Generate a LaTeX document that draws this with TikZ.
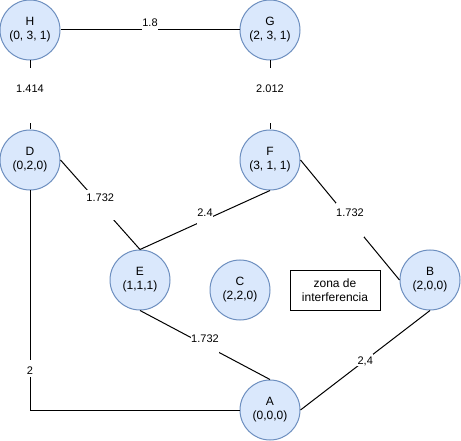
\documentclass[tikz,border=0pt]{standalone}
\usepackage{fontspec}
\setmainfont{Liberation Sans}
\definecolor{vfill}{HTML}{DAE8FC}
\definecolor{vborder}{HTML}{6C8EBF}
\begin{document}
\begin{tikzpicture}[x=1pt,y=-1pt,
  vertex/.style={circle, draw=vborder, fill=vfill, line width=1pt,
    minimum size=60pt, inner sep=0pt, align=center,
    font=\fontsize{12}{14}\selectfont},
  link/.style={line width=1pt, draw=black},
  weight/.style={fill=white, inner xsep=0.5pt, inner ysep=0pt,
    font=\fontsize{11}{13}\selectfont},
  note/.style={draw, line width=1pt, minimum width=90pt, minimum height=40pt,
    inner sep=0pt, align=center, font=\fontsize{12}{14}\selectfont}]
\useasboundingbox (0,0) rectangle (461,441);

% vertices
\node[vertex] (H) at (30,30)   {H\\(0, 3, 1)};
\node[vertex] (G) at (270,30)  {G\\(2, 3, 1)};
\node[vertex] (D) at (30,160)  {D\\(0,2,0)};
\node[vertex] (F) at (270,160) {F\\(3, 1, 1)};
\node[vertex] (E) at (140,280) {E\\(1,1,1)};
\node[vertex] (C) at (240,290) {C\\(2,2,0)};
\node[vertex] (B) at (430,280) {B\\(2,0,0)};
\node[vertex] (A) at (270,410) {A\\(0,0,0)};

% annotation box
\node[note] (zone) at (335,290) {zona de\\interferencia};

% weighted edges
\draw[link] (H.east) -- node[weight, text height=9pt, text depth=15pt] {1.8} (G.west);
\draw[link] (H.south) -- node[weight, pos=0.507, text height=25pt, text depth=30pt] {1.414} (D.north);
\draw[link] (G.south) -- node[weight, pos=0.507, text height=25pt, text depth=30pt] {2.012} (F.north);
\draw[link] (D.east) -- node[weight, text height=12pt, text depth=18pt] {1.732} (E.north);
\draw[link] (E.north) -- node[weight, text height=8pt, text depth=14pt] {2.4} (F.south);
\draw[link] (F.east) -- node[weight, text height=14pt, text depth=20pt] {1.732} (B.west);
\draw[link] (E.south) -- node[weight, text height=9pt, text depth=15pt] {1.732} (A.north);
\draw[link] (A.east) -- node[weight, text height=10pt, text depth=2pt] {2,4} (B.south);
\draw[link] (D.south) |- node[weight, pos=0.406, text height=14pt, text depth=3pt] {2} (A.west);
\end{tikzpicture}
\end{document}
